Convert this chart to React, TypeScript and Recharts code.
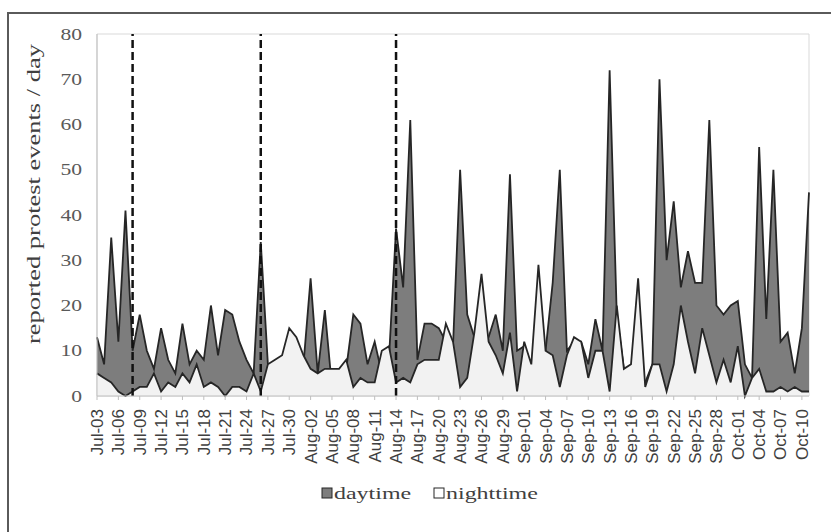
import React from "react";
import { AreaChart, Area, XAxis, YAxis, ReferenceLine, ReferenceArea } from "recharts";

// one label per day, Jul-03 .. Oct-11
const dates = [
  "Jul-03", "Jul-04", "Jul-05", "Jul-06", "Jul-07", "Jul-08", "Jul-09", "Jul-10", "Jul-11", "Jul-12",
  "Jul-13", "Jul-14", "Jul-15", "Jul-16", "Jul-17", "Jul-18", "Jul-19", "Jul-20", "Jul-21", "Jul-22",
  "Jul-23", "Jul-24", "Jul-25", "Jul-26", "Jul-27", "Jul-28", "Jul-29", "Jul-30", "Jul-31", "Aug-01",
  "Aug-02", "Aug-03", "Aug-04", "Aug-05", "Aug-06", "Aug-07", "Aug-08", "Aug-09", "Aug-10", "Aug-11",
  "Aug-12", "Aug-13", "Aug-14", "Aug-15", "Aug-16", "Aug-17", "Aug-18", "Aug-19", "Aug-20", "Aug-21",
  "Aug-22", "Aug-23", "Aug-24", "Aug-25", "Aug-26", "Aug-27", "Aug-28", "Aug-29", "Aug-30", "Aug-31",
  "Sep-01", "Sep-02", "Sep-03", "Sep-04", "Sep-05", "Sep-06", "Sep-07", "Sep-08", "Sep-09", "Sep-10",
  "Sep-11", "Sep-12", "Sep-13", "Sep-14", "Sep-15", "Sep-16", "Sep-17", "Sep-18", "Sep-19", "Sep-20",
  "Sep-21", "Sep-22", "Sep-23", "Sep-24", "Sep-25", "Sep-26", "Sep-27", "Sep-28", "Sep-29", "Sep-30",
  "Oct-01", "Oct-02", "Oct-03", "Oct-04", "Oct-05", "Oct-06", "Oct-07", "Oct-08", "Oct-09", "Oct-10",
  "Oct-11",
];

const daytime = [
  13, 7, 35, 12, 41, 10, 18, 10, 6, 15,
  8, 5, 16, 7, 10, 8, 20, 9, 19, 18,
  12, 8, 5, 34, 7, 6, 7, 10, 9, 7,
  26, 5, 19, 2, 5, 6, 18, 16, 7, 12,
  5, 8, 37, 24, 61, 8, 16, 16, 15, 12,
  11, 50, 18, 13, 10, 13, 18, 10, 49, 10,
  11, 6, 8, 10, 25, 50, 10, 12, 12, 7,
  17, 10, 72, 18, 6, 6, 5, 3, 7, 70,
  30, 43, 24, 32, 25, 25, 61, 20, 18, 20,
  21, 7, 4, 55, 17, 50, 12, 14, 5, 15,
  45,
];

const nighttime = [
  5, 4, 3, 1, 0, 1, 2, 2, 5, 1,
  3, 2, 5, 3, 7, 2, 3, 2, 0, 2,
  2, 1, 5, 1, 7, 8, 9, 15, 13, 9,
  6, 5, 6, 6, 6, 8, 2, 4, 3, 3,
  10, 11, 3, 4, 3, 7, 8, 8, 8, 16,
  12, 2, 4, 14, 27, 12, 9, 5, 14, 1,
  12, 7, 29, 10, 9, 2, 9, 13, 12, 4,
  10, 10, 1, 20, 6, 7, 26, 2, 7, 7,
  1, 7, 20, 12, 5, 15, 9, 3, 8, 3,
  11, 0, 4, 6, 1, 1, 2, 1, 2, 1,
  1,
];

const yTicks = [0, 10, 20, 30, 40, 50, 60, 70, 80];
const markerDays = ["Jul-08", "Jul-26", "Aug-14"];

const data = dates.map((date, i) => ({ date, day: daytime[i], night: nighttime[i] }));

const serif = "'Liberation Serif', 'Times New Roman', serif";
const sans = "'Liberation Sans', Arial, sans-serif";

function XTick(props: any) {
  const { x, y, payload } = props;
  return (
    <text
      transform={`translate(${x},${y}) rotate(-90)`}
      textAnchor="end"
      dy="0.35em"
      fontFamily={sans}
      fontSize={17}
      fill="#404040"
    >
      {payload.value}
    </text>
  );
}

function YTick(props: any) {
  const { x, y, payload } = props;
  return (
    <g transform={`translate(${x},${y})`}>
      <text transform="scale(1.35,1)" textAnchor="end" dy="0.35em" fontFamily={serif} fontSize={16} fill="#595959">
        {payload.value}
      </text>
    </g>
  );
}

function YTitle() {
  return (
    <text
      transform="translate(33,194) rotate(-90)"
      textAnchor="middle"
      dominantBaseline="central"
      fontFamily={serif}
      fontSize={19}
      fill="#404040"
      textLength={300}
      lengthAdjust="spacingAndGlyphs"
    >
      reported protest events / day
    </text>
  );
}

export default function App() {
  return (
    <div style={{ position: "absolute", left: 0, top: 0, width: 831, height: 532, background: "#fff", overflow: "hidden" }}>
      <div
        style={{
          position: "absolute", left: 7, top: 12, width: 900, height: 600,
          borderLeft: "2px solid #5a5a5a", borderTop: "2px solid #5a5a5a",
        }}
      />
      <AreaChart width={831} height={532} data={data} margin={{ top: 34, right: 22, bottom: 56, left: 0 }}>
        <ReferenceArea x1={dates[0]} x2={dates[dates.length - 1]} y1={0} y2={80} fill="none" stroke="#d9d9d9" />
        <XAxis
          dataKey="date"
          interval={2}
          height={80}
          tickSize={4}
          tickMargin={9}
          axisLine={{ stroke: "#bfbfbf" }}
          tickLine={{ stroke: "#bfbfbf" }}
          tick={<XTick />}
        />
        <YAxis
          type="number"
          domain={[0, 80]}
          ticks={yTicks}
          width={97}
          tickLine={false}
          tickSize={0}
          tickMargin={15}
          axisLine={{ stroke: "#bfbfbf" }}
          tick={<YTick />}
          label={<YTitle />}
        />
        <Area
          type="linear"
          dataKey="day"
          stroke="#262626"
          strokeWidth={1.8}
          fill="#7d7d7d"
          fillOpacity={1}
          dot={false}
          activeDot={false}
          isAnimationActive={false}
        />
        <Area
          type="linear"
          dataKey="night"
          stroke="#262626"
          strokeWidth={1.8}
          fill="#f2f2f2"
          fillOpacity={1}
          dot={false}
          activeDot={false}
          isAnimationActive={false}
        />
        {markerDays.map((d) => (
          <ReferenceLine key={d} x={d} stroke="#111" strokeWidth={2.5} strokeDasharray="8 4" />
        ))}
      </AreaChart>
      <svg width={831} height={532} style={{ position: "absolute", left: 0, top: 0, pointerEvents: "none" }}>
        <rect x={322} y={488} width={10} height={10} fill="#7d7d7d" stroke="#262626" />
        <g transform="translate(334,493)">
          <text transform="scale(1.37,1)" dominantBaseline="central" fontFamily={serif} fontSize={17.5} fill="#404040">
            daytime
          </text>
        </g>
        <rect x={434} y={488} width={10} height={10} fill="#fff" stroke="#262626" />
        <g transform="translate(446,493)">
          <text transform="scale(1.37,1)" dominantBaseline="central" fontFamily={serif} fontSize={17.5} fill="#404040">
            nighttime
          </text>
        </g>
      </svg>
    </div>
  );
}
